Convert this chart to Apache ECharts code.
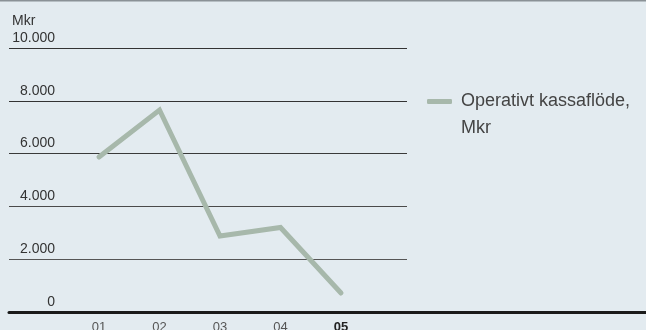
<!DOCTYPE html>
<html>
<head>
<meta charset="utf-8">
<script src="https://cdn.jsdelivr.net/npm/echarts@6/dist/echarts.min.js"></script>
<style>
  html, body { margin: 0; padding: 0; background: #e3ebf0; }
  #chart { width: 646px; height: 330px; }
</style>
</head>
<body>
<div id="chart"></div>
<script>
// Operativt kassaflöde per år (Mkr)
const categories = ['01', '02', '03', '04', '05'];
const cashFlow = [5870, 7650, 2880, 3200, 720];
const yTicks = { min: 0, max: 10000, step: 2000 };
const unitLabel = 'Mkr';
const seriesName = 'Operativt kassaflöde,\nMkr';

const FONT = '"Liberation Sans", Arial, Helvetica, sans-serif';
const fmt = v => String(v).replace(/\B(?=(\d{3})+(?!\d))/g, '.');

const chart = echarts.init(document.getElementById('chart'), null, { renderer: 'canvas' });

const TOP = 48, BOTTOM = 18;
const gridBase = { top: TOP, bottom: BOTTOM, containLabel: false, outerBoundsMode: 'none' };

chart.setOption({
  backgroundColor: '#e3ebf0',
  animation: false,
  textStyle: { fontFamily: FONT },
  title: {
    text: unitLabel, left: 12, top: 14, padding: 0,
    textStyle: { fontSize: 14, fontWeight: 'normal', color: '#333', fontFamily: FONT }
  },
  graphic: [{
    type: 'rect', left: 0, top: 0,
    shape: { width: 646, height: 1.5 },
    style: { fill: '#8a9196' }
  }],
  legend: {
    left: 427, top: 61, padding: 0,
    icon: 'roundRect', itemWidth: 25, itemHeight: 5, itemGap: 0,
    // blank first line keeps the icon level with the first text line;
    // a narrow spacer token widens the gap between icon and text
    formatter: name => ' \n' + name.split('\n').map(l => '{gap| }' + l).join('\n'),
    textStyle: {
      fontSize: 18, color: '#444', fontFamily: FONT, lineHeight: 27,
      rich: { gap: { width: 4, fontSize: 18, lineHeight: 27 } }
    },
    data: [seriesName]
  },
  grid: [
    // full-width baseline
    Object.assign({ left: 9, right: 0 }, gridBase),
    // horizontal gridlines + value labels
    Object.assign({ left: 9, width: 398 }, gridBase),
    // plotting area for the categories
    Object.assign({ left: 68.75, width: 302.5 }, gridBase)
  ],
  xAxis: [
    {
      gridIndex: 0, type: 'category', data: categories,
      axisLine: { show: true, lineStyle: { color: '#1a1a1a', width: 3 } },
      axisTick: { show: false }, axisLabel: { show: false }, splitLine: { show: false }
    },
    {
      gridIndex: 1, type: 'category', data: categories, show: false
    },
    {
      gridIndex: 2, type: 'category', data: categories, boundaryGap: true,
      axisLine: { show: false }, axisTick: { show: false },
      axisLabel: {
        margin: 9, fontSize: 13, color: '#555', fontFamily: FONT,
        formatter: (v, i) => i === categories.length - 1 ? '{b|' + v + '}' : v,
        rich: { b: { fontSize: 13, fontWeight: 'bold', color: '#222', fontFamily: FONT } }
      }
    }
  ],
  yAxis: [
    {
      gridIndex: 0, type: 'value', min: yTicks.min, max: yTicks.max, interval: yTicks.step,
      show: false
    },
    {
      gridIndex: 1, type: 'value', min: yTicks.min, max: yTicks.max, interval: yTicks.step,
      axisLine: { show: false }, axisTick: { show: false },
      splitLine: {
        show: true,
        lineStyle: { color: ['transparent', '#555', '#4a4a4a', '#3a3a3a', '#333', '#333'], width: 1.2 }
      },
      axisLabel: {
        inside: true, margin: 46, align: 'right', verticalAlign: 'bottom',
        fontSize: 14, color: '#333', fontFamily: FONT, lineHeight: 14,
        padding: [0, 0, 3, 0],
        formatter: v => fmt(v)
      }
    },
    {
      gridIndex: 2, type: 'value', min: yTicks.min, max: yTicks.max, interval: yTicks.step,
      show: false
    }
  ],
  series: [{
    name: seriesName,
    type: 'line',
    xAxisIndex: 2, yAxisIndex: 2,
    data: cashFlow,
    symbol: 'none',
    lineStyle: { color: '#a7b8ab', width: 5, cap: 'round', join: 'miter' },
    itemStyle: { color: '#a7b8ab' }
  }]
});
</script>
</body>
</html>
